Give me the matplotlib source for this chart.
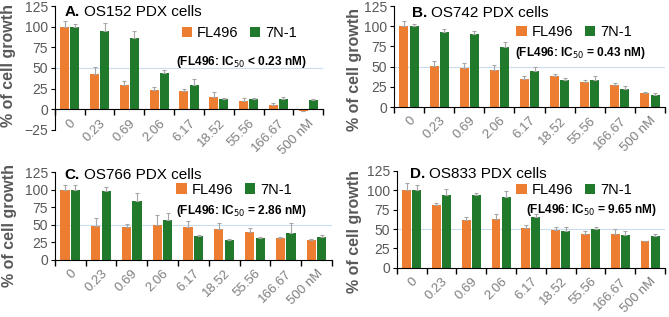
import numpy as np
import matplotlib
matplotlib.use("Agg")
import matplotlib.pyplot as plt

plt.rcParams['font.family'] = ['Liberation Sans', 'DejaVu Sans']

conc = ['0', '0.23', '0.69', '2.06', '6.17', '18.52', '55.56', '166.67', '500 nM']

# panel A
fl_a = [100, 43, 30, 23, 22, 15, 10, 5, -2]
fl_a_err = [7, 8, 4, 4, 3, 6, 4, 3, 0]
n7_a = [100, 95, 86, 44, 29, 13, 13, 13, 11]
n7_a_err = [3, 10, 9, 3, 8, 1, 1, 2, 2]
# panel B
fl_b = [100, 51, 49, 46, 35, 38, 31, 27, 18]
fl_b_err = [7, 6, 6, 6, 3, 3, 3, 3, 1]
n7_b = [100, 93, 90, 74, 45, 33, 33, 23, 15]
n7_b_err = [3, 3, 4, 7, 5, 3, 5, 3, 2]
# panel C
fl_c = [100, 48, 47, 50, 47, 44, 40, 31, 28]
fl_c_err = [7, 11, 4, 14, 9, 9, 5, 1, 2]
n7_c = [100, 98, 84, 57, 34, 29, 31, 39, 33]
n7_c_err = [7, 6, 11, 10, 2, 1, 1, 13, 2]
# panel D
fl_d = [100, 81, 62, 63, 51, 49, 44, 44, 34]
fl_d_err = [9, 3, 4, 6, 4, 4, 3, 6, 1]
n7_d = [100, 94, 94, 91, 66, 47, 50, 42, 41]
n7_d_err = [7, 8, 3, 8, 3, 6, 3, 5, 2]

ORANGE = '#ED7D31'
GREEN = '#217A2C'
GRAY = '#595959'

fig = plt.figure(figsize=(6.69, 3.17), dpi=100)

# rect, ymin, letter, name, data..., IC50 op/value,
# text positions (title x, title y, legend right, legend y, ic right, ic y, ylabel x, ylabel y)
panels = [
    ([0.082, 0.590, 0.401, 0.391], -25, 'A.', 'OS152 PDX cells', fl_a, fl_a_err, n7_a, n7_a_err, '<', '0.23',
     (0.037, 0.95, 0.903, 0.78, 0.94, 0.55, -0.146, 0.52)),
    ([0.589, 0.662, 0.405, 0.319], 0, 'B.', 'OS742 PDX cells', fl_b, fl_b_err, n7_b, n7_b_err, '=', '0.43',
     (0.066, 0.93, 0.878, 0.74, 0.93, 0.54, -0.118, 0.37)),
    ([0.082, 0.180, 0.414, 0.277], 0, 'C.', 'OS766 PDX cells', fl_c, fl_c_err, n7_c, n7_c_err, '=', '2.86',
     (0.036, 0.97, 0.856, 0.80, 0.91, 0.56, -0.137, 0.39)),
    ([0.593, 0.155, 0.401, 0.306], 0, 'D.', 'OS833 PDX cells', fl_d, fl_d_err, n7_d, n7_d_err, '=', '9.65',
     (0.05, 0.97, 0.877, 0.80, 0.97, 0.60, -0.13, 0.37)),
]

x = np.arange(len(conc))
w = 0.3
ekw = dict(ecolor='#A6A6A6', elinewidth=0.8, capsize=1.5, capthick=0.8)
for rect, ymin, letter, name, fl, fle, n7, n7e, op, ic, pos in panels:
    tx, ty, lx, ly, ix, iy, yx, yy = pos
    ax = fig.add_axes(rect)
    ax.axhline(50, color='#C9DDEE', lw=0.8, zorder=0)
    ax.bar(x - 0.17, fl, w, color=ORANGE, zorder=2, yerr=[np.zeros(len(fle)), fle], error_kw=ekw)
    ax.bar(x + 0.17, n7, w, color=GREEN, zorder=2, yerr=[np.zeros(len(n7e)), n7e], error_kw=ekw)
    ax.set_xlim(-0.5, len(conc) - 0.5)
    ax.set_ylim(ymin, 125)
    ax.set_yticks(np.arange(ymin, 126, 25))
    ax.spines['top'].set_visible(False)
    ax.spines['right'].set_visible(False)
    ax.spines['bottom'].set_position(('data', 0))
    ax.set_xticks(x)
    ax.set_xticklabels(conc, rotation=45, ha='right', rotation_mode='anchor')
    ax.set_xticks(np.arange(-0.5, len(conc), 1), minor=True)
    ax.tick_params(axis='x', which='major', length=0, labelsize=9.5, labelcolor='#7F7F7F', pad=5.5)
    ax.tick_params(axis='x', which='minor', length=4, direction='out', width=1)
    ax.tick_params(axis='y', length=3, labelsize=10, labelcolor=GRAY, pad=2)
    ax.set_ylabel('% of cell growth', fontsize=11.5, fontweight='bold', color=GRAY)
    ax.yaxis.set_label_coords(yx, yy)
    ax.text(tx, ty, letter, transform=ax.transAxes, fontsize=11, fontweight='bold', va='center')
    ax.text(tx + 0.07, ty, name, transform=ax.transAxes, fontsize=11, va='center')
    ax.bar([0], [0], color=ORANGE, label='FL496')
    ax.bar([0], [0], color=GREEN, label='7N-1')
    ax.legend(loc='center right', bbox_to_anchor=(lx, ly), ncol=2, frameon=False, fontsize=10.5,
              handlelength=0.7, handleheight=0.7, handletextpad=0.35, columnspacing=0.8, borderpad=0,
              borderaxespad=0)
    ax.text(ix, iy, '(FL496: IC$_{50}$ ' + op + ' ' + ic + ' nM)', transform=ax.transAxes,
            fontsize=8.6, fontweight='bold', ha='right', va='center')

fig.savefig('out.png', dpi=100)
